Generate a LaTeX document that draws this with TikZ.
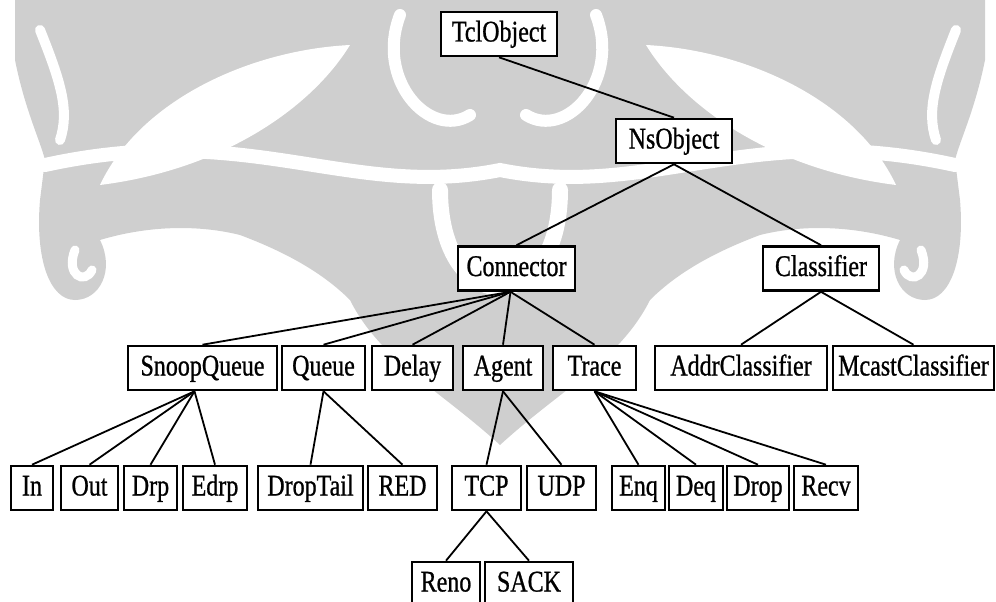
\documentclass[tikz,border=0pt]{standalone}
\usepackage{fontspec}
\newfontfamily\boxfont{Liberation Serif}[FakeStretch=0.8,FakeBold=0.8]
\begin{document}
\begin{tikzpicture}[x=1pt,y=-1pt,
  cls/.style={draw=black, line width=2.6pt, fill=white, inner sep=0pt,
    minimum height=44pt, text height=20pt, text depth=5pt,
    font=\boxfont\fontsize{30}{32}\selectfont},
  link/.style={line width=1.8pt},
  wm/.style={fill=black!19, draw=none},
  wmcut/.style={draw=white, line cap=round}]
\useasboundingbox (0,0) rectangle (996,602);
\clip (0,0) rectangle (996,602);

% faint emblem in the background: grey mass ...
\fill[wm] (15,0) -- (985,0) -- (985,60)
  .. controls (975,110) and (960,140) .. (955,160) -- (960,200)
  .. controls (965,260) and (950,300) .. (925,300)
  .. controls (900,300) and (885,270) .. (900,240)
  .. controls (850,225) and (800,225) .. (760,235)
  .. controls (720,250) and (680,270) .. (650,300)
  .. controls (620,360) and (560,390) .. (500,445)
  .. controls (440,390) and (380,360) .. (350,300)
  .. controls (320,270) and (280,250) .. (240,235)
  .. controls (200,225) and (150,225) .. (100,240)
  .. controls (115,270) and (100,300) .. (75,300)
  .. controls (50,300) and (35,260) .. (40,200) -- (45,160)
  .. controls (40,140) and (25,110) .. (15,60) -- cycle;
% ... with its light openings
\fill[white] (100,185) .. controls (140,100) and (250,50) .. (350,45)
  .. controls (310,110) and (220,170) .. (100,185) -- cycle;
\fill[white] (896,185) .. controls (856,100) and (746,50) .. (646,45)
  .. controls (686,110) and (776,170) .. (896,185) -- cycle;
\draw[wmcut, line width=14pt] (45,165) .. controls (250,120) and (350,200) .. (500,170)
  .. controls (650,200) and (750,120) .. (955,165);
\draw[wmcut, line width=16pt] (440,190) .. controls (440,320) and (560,320) .. (560,190);
\draw[wmcut, line width=12pt] (400,15) .. controls (375,80) and (430,140) .. (470,115);
\draw[wmcut, line width=12pt] (596,15) .. controls (621,80) and (566,140) .. (526,115);
\draw[wmcut, line width=10pt] (40,30) .. controls (60,80) and (70,110) .. (60,140);
\draw[wmcut, line width=10pt] (956,30) .. controls (936,80) and (926,110) .. (936,140);
\draw[wmcut, line width=9pt] (75,250) .. controls (65,275) and (85,285) .. (92,270);
\draw[wmcut, line width=9pt] (921,250) .. controls (931,275) and (911,285) .. (904,270);

% classes
\node[cls, minimum width=116pt] (tcl)   at (499,34)    {TclObject};
\node[cls, minimum width=116pt] (ns)    at (674,141)   {NsObject};
\node[cls, minimum width=117pt] (con)   at (516.5,268.5) {Connector};
\node[cls, minimum width=116pt] (cla)   at (821,268.5) {Classifier};

\node[cls, minimum width=149pt] (snoop) at (202.5,368) {SnoopQueue};
\node[cls, minimum width=83pt]  (queue) at (323.5,368) {Queue};
\node[cls, minimum width=81pt]  (delay) at (412.5,368) {Delay};
\node[cls, minimum width=80pt]  (agent) at (503,368)   {Agent};
\node[cls, minimum width=83pt]  (trace) at (594.5,368) {Trace};
\node[cls, minimum width=172pt] (addr)  at (741,368)   {AddrClassifier};
\node[cls, minimum width=161pt] (mcast) at (913.5,368) {McastClassifier};

\node[cls, minimum width=42pt]  (in)    at (32,488)    {In};
\node[cls, minimum width=57pt]  (out)   at (89.5,488)  {Out};
\node[cls, minimum width=53pt]  (drp)   at (150.5,488) {Drp};
\node[cls, minimum width=64pt]  (edrp)  at (215,488)   {Edrp};
\node[cls, minimum width=105pt] (dtail) at (310.5,488) {DropTail};
\node[cls, minimum width=69pt]  (red)   at (402.5,488) {RED};
\node[cls, minimum width=69pt]  (tcp)   at (486.5,488) {TCP};
\node[cls, minimum width=69pt]  (udp)   at (561.5,488) {UDP};
\node[cls, minimum width=53pt]  (enq)   at (638.5,488) {Enq};
\node[cls, minimum width=54pt]  (deq)   at (696,488)   {Deq};
\node[cls, minimum width=62pt]  (drop)  at (758,488)   {Drop};
\node[cls, minimum width=64pt]  (recv)  at (826,488)   {Recv};

\node[cls, minimum width=68pt]  (reno)  at (446,584)   {Reno};
\node[cls, minimum width=88pt]  (sack)  at (529,584)   {SACK};

% inheritance links
\draw[link] (tcl.south) -- (ns.north);
\foreach \c in {con,cla} \draw[link] (ns.south) -- (\c.north);
\foreach \c in {snoop,queue,delay,agent,trace} \draw[link] ([xshift=-6pt]con.south) -- (\c.north);
\foreach \c in {addr,mcast} \draw[link] (cla.south) -- (\c.north);
\foreach \c in {in,out,drp,edrp} \draw[link] ([xshift=-8pt]snoop.south) -- (\c.north);
\foreach \c in {dtail,red} \draw[link] (queue.south) -- (\c.north);
\foreach \c in {tcp,udp} \draw[link] (agent.south) -- (\c.north);
\foreach \c in {enq,deq,drop,recv} \draw[link] (trace.south) -- (\c.north);
\foreach \c in {reno,sack} \draw[link] (tcp.south) -- (\c.north);
\end{tikzpicture}
\end{document}
